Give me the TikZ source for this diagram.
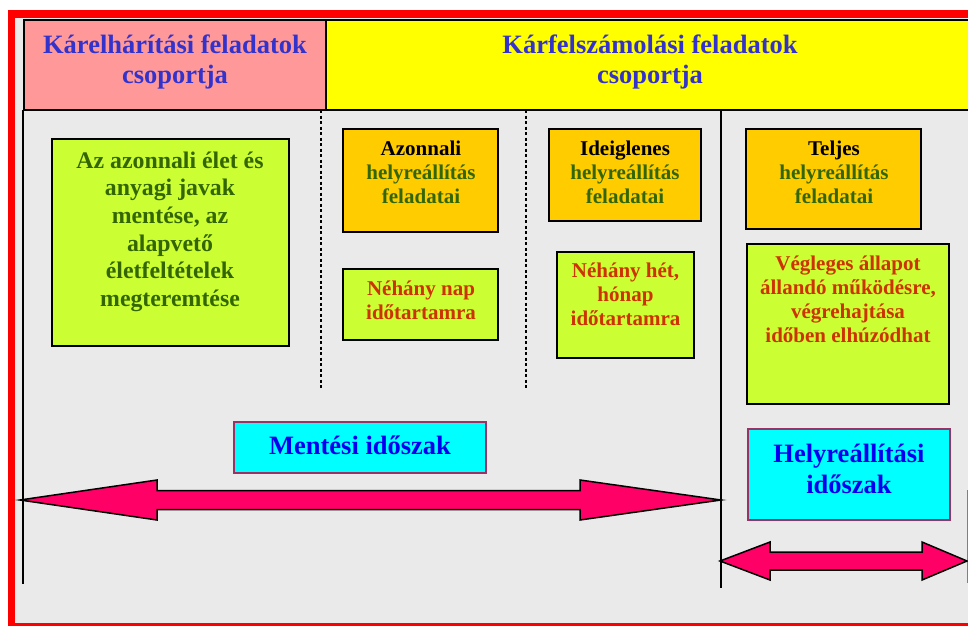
\documentclass[tikz,border=0pt]{standalone}
\usepackage{fontspec}
\setmainfont{Liberation Serif}
\definecolor{bgGrey}{HTML}{EAEAEA}
\definecolor{frameRed}{HTML}{FF0000}
\definecolor{hdrPink}{HTML}{FF9999}
\definecolor{hdrYellow}{HTML}{FFFF00}
\definecolor{hdrBlue}{HTML}{3333CC}
\definecolor{boxGreen}{HTML}{CCFF33}
\definecolor{boxOrange}{HTML}{FFCC00}
\definecolor{txtGreen}{HTML}{336600}
\definecolor{txtRed}{HTML}{CC3300}
\definecolor{boxCyan}{HTML}{00FFFF}
\definecolor{cyanBorder}{HTML}{993366}
\definecolor{txtBlue}{HTML}{0000EE}
\definecolor{arrowPink}{HTML}{FF0066}
\tikzset{
  px/.style={x=1pt,y=-1pt},
  hdrbox/.style={draw=black,line width=2pt},
  panel/.style={draw=black,line width=1.6pt},
  cyanbox/.style={draw=cyanBorder,fill=boxCyan,line width=1.6pt},
  hdrtxt/.style={font=\bfseries\fontsize{26.5}{30}\selectfont,text=hdrBlue,align=center,inner sep=0pt,anchor=base},
  bigtxt/.style={font=\bfseries\fontsize{23.8}{27.7}\selectfont,text=txtGreen,align=center,inner sep=0pt,anchor=base},
  smalltxt/.style={font=\bfseries\fontsize{21}{24.3}\selectfont,align=center,inner sep=0pt,anchor=base},
  periodtxt/.style={font=\bfseries\fontsize{26.5}{31}\selectfont,text=txtBlue,align=center,inner sep=0pt,anchor=base},
  divider/.style={black,line width=1.2pt},
  dashdiv/.style={black,line width=1.2pt,dash pattern=on 3pt off 2.5pt},
  blockarrow/.style={draw=black,fill=arrowPink,line width=1.5pt,line join=miter},
}
\begin{document}
\begin{tikzpicture}[px]
\useasboundingbox (0,0) rectangle (968,626);
% frame and background
\fill[white] (0,0) rectangle (968,626);
\fill[frameRed] (8,10) rectangle (968,626);
\fill[bgGrey] (15,18) rectangle (968,623);
% headers
\draw[hdrbox,fill=hdrPink] (24,20) rectangle (326,110);
\draw[hdrbox,fill=hdrYellow] (326,20) rectangle (970,110);
\node[hdrtxt] (h1) at (175,83) {Kárelhárítási feladatok\\csoportja};
\node[hdrtxt] (h2) at (650,83) {Kárfelszámolási feladatok\\csoportja};
% dividers
\coordinate (lTop) at (23,110); \coordinate (lBot) at (23,584);
\coordinate (mTop) at (721,110); \coordinate (mBot) at (721,588);
\coordinate (rTop) at (967,490); \coordinate (rBot) at (967,583);
\coordinate (d1Top) at (321,110); \coordinate (d1Bot) at (321,388);
\coordinate (d2Top) at (526,110); \coordinate (d2Bot) at (526,388);
\draw[divider] (lTop) -- (lBot);
\draw[divider] (mTop) -- (mBot);
\draw[gray,line width=1pt] (rTop) -- (rBot);
\draw[dashdiv] (d1Top) -- (d1Bot);
\draw[dashdiv] (d2Top) -- (d2Bot);
% boxes
\draw[panel,fill=boxGreen] (52,139) rectangle (289,346);
\node[bigtxt] (t1) at (170,306.5) {Az azonnali élet és\\anyagi javak\\mentése, az\\alapvető\\életfeltételek\\megteremtése};
\draw[panel,fill=boxOrange] (343,129) rectangle (498,232);
\node[smalltxt] (t2) at (421,203.6) {\textcolor{black}{Azonnali}\\\textcolor{txtGreen}{helyreállítás}\\\textcolor{txtGreen}{feladatai}};
\draw[panel,fill=boxOrange] (549,129) rectangle (701,221);
\node[smalltxt] (t3) at (625,203.6) {\textcolor{black}{Ideiglenes}\\\textcolor{txtGreen}{helyreállítás}\\\textcolor{txtGreen}{feladatai}};
\draw[panel,fill=boxOrange] (746,129) rectangle (921,229);
\node[smalltxt] (t4) at (834,203.6) {\textcolor{black}{Teljes}\\\textcolor{txtGreen}{helyreállítás}\\\textcolor{txtGreen}{feladatai}};
\draw[panel,fill=boxGreen] (343,269) rectangle (498,340);
\node[smalltxt,text=txtRed] (t5) at (421,319.3) {Néhány nap\\időtartamra};
\draw[panel,fill=boxGreen] (557,252) rectangle (694,358);
\node[smalltxt,text=txtRed] (t6) at (625.5,325.6) {Néhány hét,\\hónap\\időtartamra};
\draw[panel,fill=boxGreen] (747,244) rectangle (949,404);
\node[smalltxt,text=txtRed] (t7) at (848,342.9) {Végleges állapot\\állandó működésre,\\végrehajtása\\időben elhúzódhat};
% period boxes
\draw[cyanbox] (234,422) rectangle (486,473);
\node[periodtxt] (p1) at (360,454) {Mentési időszak};
\draw[cyanbox] (748,429) rectangle (950,520);
\node[periodtxt] (p2) at (849,493) {Helyreállítási\\időszak};
% block arrows
\coordinate (a1L) at (20,500); \coordinate (a1R) at (721,500);
\coordinate (a2L) at (720,561); \coordinate (a2R) at (967,561);
\draw[blockarrow] (a1L) -- ++(137,-20) -- ++(0,10.5) -- (580,490.5) -- (580,480) -- (a1R)
  -- (580,520) -- (580,509.5) -- (157,509.5) -- (157,520) -- cycle;
\draw[blockarrow] (a2L) -- ++(50,-19) -- ++(0,10) -- (922,552) -- (922,542) -- (a2R)
  -- (922,580) -- (922,570) -- (770,570) -- (770,580) -- cycle;
\end{tikzpicture}
\end{document}
